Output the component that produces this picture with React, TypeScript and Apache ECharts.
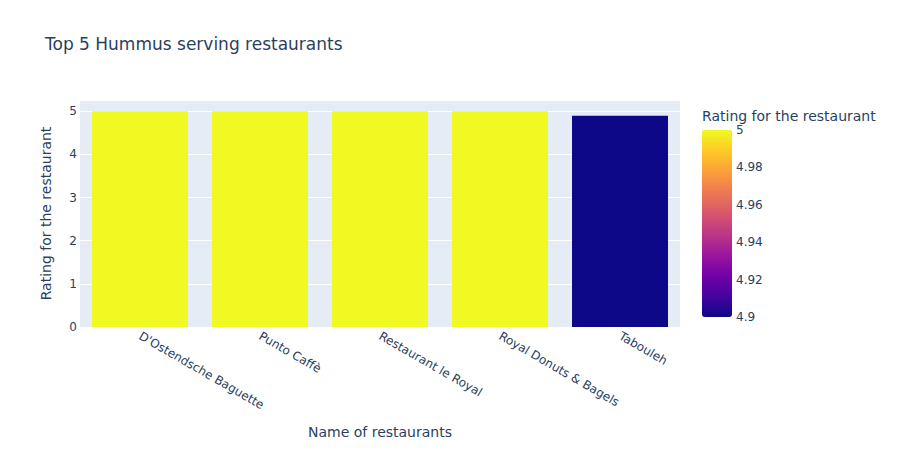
import React, { useEffect, useRef } from "react";
import * as echarts from "echarts";

const restaurants = [
  "D'Ostendsche Baguette",
  "Punto Caffè",
  "Restaurant le Royal",
  "Royal Donuts & Bagels",
  "Tabouleh",
];
const ratings = [5, 5, 5, 5, 4.9];
const plasma = [
  "#0d0887", "#46039f", "#7201a8", "#9c179e", "#bd3786",
  "#d8576b", "#ed7953", "#fb9f3a", "#fdca26", "#f0f921",
];

const FONT = '"DejaVu Sans", Verdana, sans-serif';
const TXT = "#2a3f5f";

export default function App() {
  const ref = useRef<HTMLDivElement>(null);
  useEffect(() => {
    const chart = echarts.init(ref.current!, null, { renderer: "svg" });
    chart.setOption({
      animation: false,
      backgroundColor: "#ffffff",
      textStyle: { fontFamily: FONT, color: TXT },
      title: [
        {
          text: "Top 5 Hummus serving restaurants",
          left: 45,
          top: 35,
          padding: 0,
          textStyle: { fontFamily: FONT, fontSize: 17, fontWeight: "normal", color: TXT },
        },
        {
          text: "Rating for the restaurant",
          left: 702,
          top: 109,
          padding: 0,
          textStyle: { fontFamily: FONT, fontSize: 14, fontWeight: "normal", color: TXT },
        },
      ],
      grid: [
        { left: 80, top: 100, width: 600, height: 227, show: true, backgroundColor: "#e5ecf6", borderWidth: 0 },
        { left: 702, top: 130, width: 30, height: 187, show: false },
      ],
      xAxis: [
        {
          type: "category",
          gridIndex: 0,
          data: restaurants,
          name: "Name of restaurants",
          nameLocation: "middle",
          nameGap: 98,
          nameTextStyle: { fontFamily: FONT, fontSize: 14, color: TXT },
          axisLine: { show: false },
          axisTick: { show: false },
          axisLabel: { rotate: -30, fontFamily: FONT, fontSize: 12, color: TXT, margin: 8, interval: 0 },
        },
        { type: "value", gridIndex: 1, show: false },
      ],
      yAxis: [
        {
          type: "value",
          gridIndex: 0,
          min: 0,
          max: 5.263,
          interval: 1,
          name: "Rating for the restaurant",
          nameLocation: "middle",
          nameGap: 27,
          nameTextStyle: { fontFamily: FONT, fontSize: 14, color: TXT },
          axisLine: { show: false },
          axisTick: { show: false },
          axisLabel: { fontFamily: FONT, fontSize: 12, color: TXT, margin: 3, showMaxLabel: false },
          splitLine: { lineStyle: { color: "#ffffff", width: 1 } },
        },
        {
          type: "value",
          gridIndex: 1,
          position: "right",
          min: 4.9,
          max: 5,
          interval: 0.02,
          axisLine: { show: false },
          axisTick: { show: false },
          splitLine: { show: false },
          axisLabel: {
            fontFamily: FONT,
            fontSize: 12,
            color: TXT,
            margin: 4,
            formatter: (v: number) => String(Math.round(v * 100) / 100),
          },
        },
      ],
      visualMap: {
        type: "continuous",
        seriesIndex: 0,
        dimension: 1,
        min: 4.9,
        max: 5,
        inRange: { color: plasma },
        left: 702,
        top: 130,
        itemWidth: 30,
        itemHeight: 187,
        padding: 0,
        calculable: false,
        text: null,
        orient: "vertical",
      },
      series: [
        {
          type: "bar",
          xAxisIndex: 0,
          yAxisIndex: 0,
          data: ratings,
          barCategoryGap: "20%",
        },
      ],
    });
    return () => chart.dispose();
  }, []);
  return (
    <div
      ref={ref}
      style={{ position: "fixed", left: 0, top: 0, width: 898, height: 450 }}
    />
  );
}
